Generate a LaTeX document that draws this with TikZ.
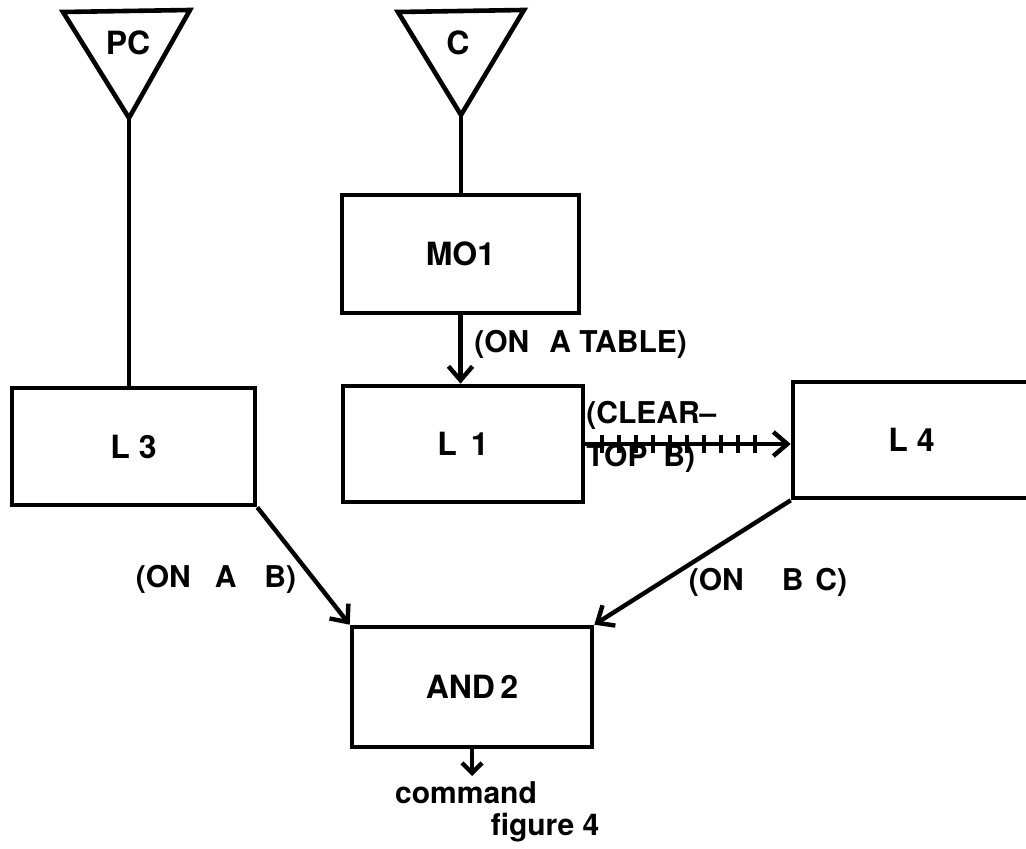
\documentclass[tikz,border=0pt]{standalone}
\usepackage{fontspec}
\setmainfont{TeX Gyre Heros}
\usetikzlibrary{arrows.meta,decorations.markings}
\begin{document}
\begin{tikzpicture}[x=0.5pt,y=-0.5pt,
  box/.style={draw,line width=2.3pt,inner sep=0pt,font=\fontsize{16}{19}\selectfont\bfseries},
  wire/.style={line width=2.3pt},
  arr/.style={line width=2.2pt,-{Straight Barb[length=7pt,width=12pt,line width=2.2pt]}},
  arrsmall/.style={line width=2.2pt,-{Straight Barb[length=5pt,width=10pt,line width=2.2pt]}},
  lbl/.style={font=\fontsize{15}{18}\selectfont\bfseries,inner sep=0pt},
  tri/.style={line width=2.3pt,line join=miter},
  hatch/.style={postaction={decorate,decoration={markings,
      mark=between positions 0.08 and 0.88 step 8.5pt with {\draw[-,line width=2pt] (0,-4.5pt) -- (0,4.5pt);}}}}
]
\useasboundingbox (0,0) rectangle (1026,849);

% triangles
\coordinate (pcA) at (63,12);
\coordinate (pcB) at (190,10);
\coordinate (pcT) at (129,118);
\draw[tri] (pcA) -- (pcB) -- (pcT) -- cycle;
\node[lbl,font=\fontsize{16}{19}\selectfont\bfseries] (pclbl) at (128,43) {PC};

\coordinate (cA) at (398,12);
\coordinate (cB) at (524,10);
\coordinate (cT) at (461,115);
\draw[tri] (cA) -- (cB) -- (cT) -- cycle;
\node[lbl,font=\fontsize{16}{19}\selectfont\bfseries] (clbl) at (458,43) {C};

% boxes
\node[box,minimum width=121.5pt,minimum height=58.5pt] (L3) at (133.5,446.5) {L 3};
\node[box,minimum width=118.5pt,minimum height=59pt] (MO1) at (460.5,254) {MO1};
\node[box,minimum width=120pt,minimum height=58pt] (L1) at (463,444) {L\hspace{7pt}1};
\node[box,minimum width=118.5pt,minimum height=58pt] (L4) at (911.5,440) {L 4};
\node[box,minimum width=120pt,minimum height=60pt] (AND2) at (472,687) {AND\,2};

% connectors
\draw[wire] (pcT) -- (pcT |- L3.north);
\draw[wire] (cT) -- (cT |- MO1.north);
\draw[arr] (MO1.south) -- (MO1.south |- L1.north);
\draw[arr,hatch] (L1.east) -- (L1.east -| L4.west);
\draw[arr] (L3.south east) -- (AND2.north west);
\draw[arr] (L4.south west) -- (AND2.north east);
\coordinate (cmd) at (472,776);
\draw[arrsmall] (AND2.south) -- (cmd);

% labels
\node[lbl,anchor=west] (lblT) at (474,344) {(ON\hspace{10pt}A TABLE)};
\node[lbl,anchor=west,align=left,font=\fontsize{15}{21.5}\selectfont\bfseries] (lblC) at (586,437) {(CLEAR--\\TOP\hspace{8pt}B)};
\node[lbl] (lblAB) at (216,579) {(ON\hspace{12pt}A\hspace{14pt}B)};
\node[lbl] (lblBC) at (768,582) {(ON\hspace{19pt}B\hspace{6pt}C)};
\node[lbl,anchor=base] (command) at (466,803) {command};
\node[lbl,anchor=base] (fig) at (545,835) {figure 4};
\end{tikzpicture}
\end{document}
